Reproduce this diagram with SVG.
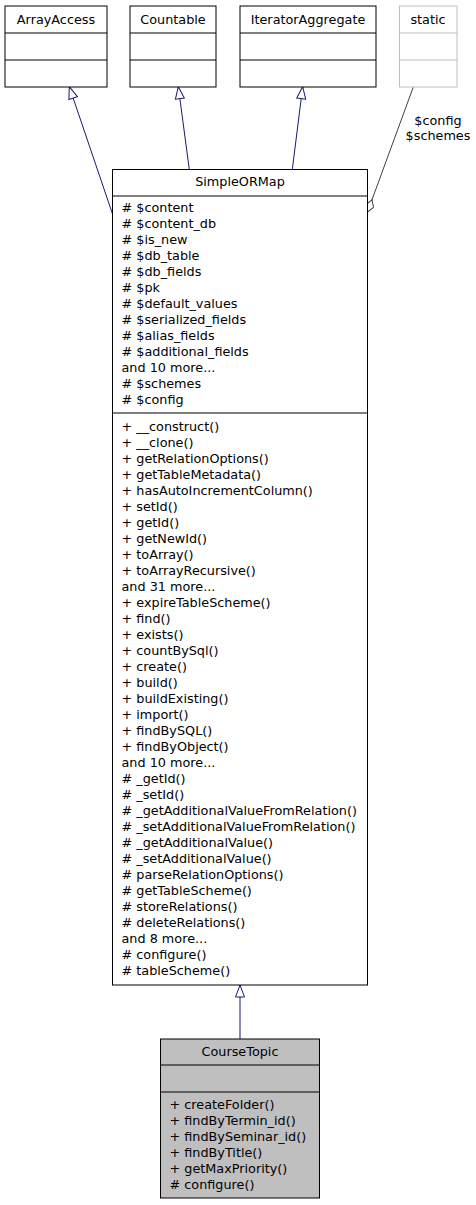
<svg xmlns="http://www.w3.org/2000/svg" width="476" height="1205" viewBox="0 0 476 1205">
<style>
text{font-family:"DejaVu Sans","Liberation Sans",sans-serif;font-size:12.8px;fill:#000}
.c{text-anchor:middle}
.box{fill:#fff;stroke:#000;stroke-width:1}
.grey{fill:#fff;stroke:#bfbfbf;stroke-width:1}
.cur{fill:#bfbfbf;stroke:#000;stroke-width:1}
.sep{stroke:#000;stroke-width:1}
.sepg{stroke:#bfbfbf;stroke-width:1}
.inh{fill:none;stroke:#191970;stroke-width:1;marker-end:url(#tri)}
.agg{fill:none;stroke:#404040;stroke-width:1;marker-end:url(#dia)}
</style>
<defs>
<marker id="tri" markerUnits="userSpaceOnUse" markerWidth="14" markerHeight="11" refX="13" refY="5.5" orient="auto" viewBox="0 0 14 11">
<polygon points="1,1 13,5.5 1,10" fill="#fff" stroke="#191970" stroke-width="1"/>
</marker>
<marker id="dia" markerUnits="userSpaceOnUse" markerWidth="15" markerHeight="10" refX="14" refY="5" orient="auto" viewBox="0 0 15 10">
<polygon points="1,5 7.5,1 14,5 7.5,9" fill="#fff" stroke="#404040" stroke-width="1"/>
</marker>
</defs>

<g id="edges">
<line class="inh" x1="112.5" y1="214" x2="69.3" y2="86.7"/>
<line class="inh" x1="189.3" y1="169.5" x2="178.3" y2="86.7"/>
<line class="inh" x1="292.3" y1="169.5" x2="302.7" y2="86.7"/>
<line class="inh" x1="240" y1="1039" x2="240" y2="985"/>
<line class="agg" x1="413.3" y1="87" x2="367.5" y2="212"/>
<text class="c" x="438" y="124.5">$config</text>
<text class="c" x="438" y="139.5">$schemes</text>
</g>

<g id="ArrayAccess">
<rect class="box" x="5" y="6" width="102" height="81"/>
<line class="sep" x1="5" y1="33" x2="107" y2="33"/>
<line class="sep" x1="5" y1="60" x2="107" y2="60"/>
<text class="c" x="56" y="24">ArrayAccess</text>
</g>

<g id="Countable">
<rect class="box" x="130" y="6" width="86" height="81"/>
<line class="sep" x1="130" y1="33" x2="216" y2="33"/>
<line class="sep" x1="130" y1="60" x2="216" y2="60"/>
<text class="c" x="173" y="24">Countable</text>
</g>

<g id="IteratorAggregate">
<rect class="box" x="240" y="6" width="136" height="81"/>
<line class="sep" x1="240" y1="33" x2="376" y2="33"/>
<line class="sep" x1="240" y1="60" x2="376" y2="60"/>
<text class="c" x="308" y="24">IteratorAggregate</text>
</g>

<g id="static">
<rect class="grey" x="399.5" y="6" width="57.5" height="81"/>
<line class="sepg" x1="399.5" y1="33" x2="457" y2="33"/>
<line class="sepg" x1="399.5" y1="60" x2="457" y2="60"/>
<text class="c" x="428" y="24">static</text>
</g>

<g id="SimpleORMap">
<rect class="box" x="112.5" y="169.5" width="255" height="815.5"/>
<line class="sep" x1="112.5" y1="196" x2="367.5" y2="196"/>
<line class="sep" x1="112.5" y1="413" x2="367.5" y2="413"/>
<text class="c" x="240" y="186">SimpleORMap</text>
<text x="121.5" y="212"># $content</text>
<text x="121.5" y="228"># $content_db</text>
<text x="121.5" y="244"># $is_new</text>
<text x="121.5" y="260"># $db_table</text>
<text x="121.5" y="276"># $db_fields</text>
<text x="121.5" y="292"># $pk</text>
<text x="121.5" y="308"># $default_values</text>
<text x="121.5" y="324"># $serialized_fields</text>
<text x="121.5" y="340"># $alias_fields</text>
<text x="121.5" y="356"># $additional_fields</text>
<text x="121.5" y="372">and 10 more...</text>
<text x="121.5" y="388"># $schemes</text>
<text x="121.5" y="404"># $config</text>
<text x="121.5" y="431">+ __construct()</text>
<text x="121.5" y="447">+ __clone()</text>
<text x="121.5" y="463">+ getRelationOptions()</text>
<text x="121.5" y="479">+ getTableMetadata()</text>
<text x="121.5" y="495">+ hasAutoIncrementColumn()</text>
<text x="121.5" y="511">+ setId()</text>
<text x="121.5" y="527">+ getId()</text>
<text x="121.5" y="543">+ getNewId()</text>
<text x="121.5" y="559">+ toArray()</text>
<text x="121.5" y="575">+ toArrayRecursive()</text>
<text x="121.5" y="591">and 31 more...</text>
<text x="121.5" y="607">+ expireTableScheme()</text>
<text x="121.5" y="623">+ find()</text>
<text x="121.5" y="639">+ exists()</text>
<text x="121.5" y="655">+ countBySql()</text>
<text x="121.5" y="671">+ create()</text>
<text x="121.5" y="687">+ build()</text>
<text x="121.5" y="703">+ buildExisting()</text>
<text x="121.5" y="719">+ import()</text>
<text x="121.5" y="735">+ findBySQL()</text>
<text x="121.5" y="751">+ findByObject()</text>
<text x="121.5" y="767">and 10 more...</text>
<text x="121.5" y="783"># _getId()</text>
<text x="121.5" y="799"># _setId()</text>
<text x="121.5" y="815"># _getAdditionalValueFromRelation()</text>
<text x="121.5" y="831"># _setAdditionalValueFromRelation()</text>
<text x="121.5" y="847"># _getAdditionalValue()</text>
<text x="121.5" y="863"># _setAdditionalValue()</text>
<text x="121.5" y="879"># parseRelationOptions()</text>
<text x="121.5" y="895"># getTableScheme()</text>
<text x="121.5" y="911"># storeRelations()</text>
<text x="121.5" y="927"># deleteRelations()</text>
<text x="121.5" y="943">and 8 more...</text>
<text x="121.5" y="959"># configure()</text>
<text x="121.5" y="975"># tableScheme()</text>
</g>

<g id="CourseTopic">
<rect class="cur" x="160.5" y="1039" width="159" height="159"/>
<line class="sep" x1="160.5" y1="1065" x2="319.5" y2="1065"/>
<line class="sep" x1="160.5" y1="1092" x2="319.5" y2="1092"/>
<text class="c" x="240" y="1056">CourseTopic</text>
<text x="169.5" y="1109">+ createFolder()</text>
<text x="169.5" y="1125">+ findByTermin_id()</text>
<text x="169.5" y="1141">+ findBySeminar_id()</text>
<text x="169.5" y="1157">+ findByTitle()</text>
<text x="169.5" y="1173">+ getMaxPriority()</text>
<text x="169.5" y="1189"># configure()</text>
</g>
</svg>
